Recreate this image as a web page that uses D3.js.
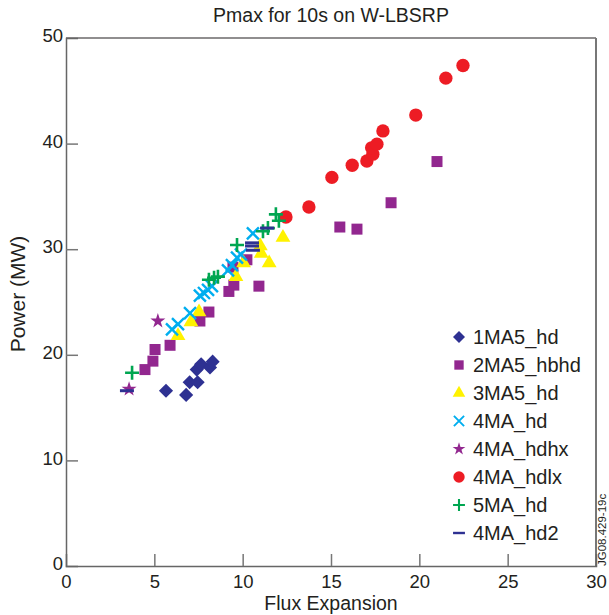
<!DOCTYPE html>
<meta charset="utf-8">
<style>
body { margin: 0; background: #fff; }
text { font-family: "Liberation Sans", Arial, sans-serif; fill: #231f20; }
.legend text { font-size: 20px; }
</style>
<body>
<script src="https://d3js.org/d3.v7.min.js"></script>
<script>
// series, in legend (and drawing) order
var seriesNames = ["1MA5_hd", "2MA5_hbhd", "3MA5_hd", "4MA_hd", "4MA_hdhx", "4MA_hdlx", "5MA_hd", "4MA_hd2"];

var x_1MA5_hd = [5.66, 6.8, 7.0, 7.45, 7.4, 7.65, 8.15, 8.3];
var y_1MA5_hd = [16.6, 16.2, 17.4, 17.4, 18.6, 19.1, 18.8, 19.35];

var x_2MA5_hbhd = [4.47, 4.92, 5.04, 5.89, 7.58, 8.09, 9.22, 9.5, 9.45, 10.24, 10.92, 15.5, 16.47, 18.4, 21.0];
var y_2MA5_hbhd = [18.6, 19.4, 20.5, 20.9, 23.2, 24.05, 26.0, 26.6, 28.3, 29.0, 26.5, 32.1, 31.9, 34.4, 38.3];

var x_3MA5_hd = [6.34, 7.07, 7.53, 9.62, 10.05, 11.0, 11.05, 11.5, 12.28];
var y_3MA5_hd = [21.8, 23.1, 24.05, 27.4, 28.7, 30.3, 29.6, 28.7, 31.1];

var x_4MA_hd = [6.0, 6.34, 7.02, 7.58, 7.81, 8.04, 8.26, 9.17, 9.39, 9.68, 9.9, 10.58];
var y_4MA_hd = [22.4, 22.9, 23.95, 25.6, 25.85, 26.15, 26.5, 28.0, 28.5, 29.2, 29.5, 31.5];

var x_4MA_hdhx = [3.57, 5.2];
var y_4MA_hdhx = [16.75, 23.2];

var x_4MA_hdlx = [12.45, 13.75, 15.05, 16.2, 17.03, 17.37, 17.3, 17.6, 17.94, 19.8, 21.5, 22.47];
var y_4MA_hdlx = [33.05, 34.0, 36.8, 37.95, 38.35, 39.0, 39.6, 39.95, 41.2, 42.7, 46.2, 47.4];

var x_5MA_hd = [3.74, 8.09, 8.38, 8.6, 9.68, 11.15, 11.43, 11.88, 12.05];
var y_5MA_hd = [18.3, 27.1, 27.3, 27.4, 30.4, 31.7, 32.0, 33.3, 32.7];

var x_4MA_hd2 = [3.45, 10.53, 10.53, 10.58, 11.38];
var y_4MA_hd2 = [16.6, 30.6, 30.3, 29.9, 32.0];

var xTicks = [0, 5, 10, 15, 20, 25, 30];
var yTicks = [0, 10, 20, 30, 40, 50];

var seriesX = [x_1MA5_hd, x_2MA5_hbhd, x_3MA5_hd, x_4MA_hd, x_4MA_hdhx, x_4MA_hdlx, x_5MA_hd, x_4MA_hd2];
var seriesY = [y_1MA5_hd, y_2MA5_hbhd, y_3MA5_hd, y_4MA_hd, y_4MA_hdhx, y_4MA_hdlx, y_5MA_hd, y_4MA_hd2];

var colors = ["#2e3192", "#92278f", "#fff200", "#00aeef", "#92278f", "#ed1c24", "#00a651", "#2e3192"];

var width = 609, height = 615;
var margin = {top: 38, right: 13, bottom: 49, left: 66};
var w = width - margin.left - margin.right,
    h = height - margin.top - margin.bottom;

var svg = d3.select("body").append("svg")
  .attr("width", width)
  .attr("height", height);

var g = svg.append("g")
  .attr("transform", "translate(" + margin.left + "," + margin.top + ")");

var x = d3.scaleLinear().domain([0, 30]).range([0, w]);
var y = d3.scaleLinear().domain([0, 50]).range([h, 0]);

// frame
g.append("line").attr("x1", 0).attr("x2", w).attr("y1", 0).attr("y2", 0)
  .attr("stroke", "#231f20").attr("stroke-width", 1.2);
g.append("line").attr("x1", w).attr("x2", w).attr("y1", 0).attr("y2", h)
  .attr("stroke", "#777").attr("stroke-width", 2);

// axes with inward ticks
var xAxis = g.append("g")
  .attr("transform", "translate(0," + h + ")")
  .call(d3.axisBottom(x).tickValues(xTicks).tickSize(-12).tickPadding(9));
var yAxis = g.append("g")
  .call(d3.axisLeft(y).tickValues(yTicks).tickSize(-12).tickPadding(3));

[xAxis, yAxis].forEach(function(ax) {
  ax.select(".domain").attr("stroke", "#666").attr("stroke-width", 1.5);
  ax.selectAll(".tick line").attr("stroke", "#777").attr("stroke-width", 1.5);
  ax.selectAll(".tick text")
    .style("font-family", "Liberation Sans, Arial, sans-serif")
    .style("font-size", "18.5px")
    .attr("fill", "#231f20");
});
yAxis.selectAll(".tick text").attr("dy", "0.2em");
// frame already covers the end ticks
xAxis.selectAll(".tick").filter(function(d) { return d === 0 || d === 30; }).select("line").remove();
yAxis.selectAll(".tick").filter(function(d) { return d === 0 || d === 50; }).select("line").remove();

// marker shapes
function marker(i, s) {
  // s = scale factor
  switch (i) {
    case 0: return {d: d3.symbol().type(d3.symbolSquare).size(100 * s * s)(), rot: 45, fill: true};
    case 1: return {d: d3.symbol().type(d3.symbolSquare).size(121 * s * s)(), fill: true};
    case 2: return {d: d3.symbol().type(d3.symbolTriangle).size(95 * s * s)(), fill: true};
    case 3: var a = 6 * s; return {d: "M" + (-a) + "," + (-a) + "L" + a + "," + a + "M" + (-a) + "," + a + "L" + a + "," + (-a), fill: false, sw: 2.4};
    case 4: return {d: d3.symbol().type(d3.symbolStar).size(70 * s * s)(), fill: true};
    case 5: return {d: d3.symbol().type(d3.symbolCircle).size(140 * s * s)(), fill: true};
    case 6: var b = 7 * s; return {d: "M" + (-b) + ",0L" + b + ",0M0," + (-b) + "L0," + b, fill: false, sw: 2.6};
    case 7: var c = 7 * s; return {d: "M" + (-c) + ",0L" + c + ",0", fill: false, sw: 3};
  }
}

seriesNames.forEach(function(name, i) {
  var pts = seriesX[i].map(function(v, k) { return [v, seriesY[i][k]]; });
  var m = marker(i, 1);
  g.append("g").attr("class", "series")
    .selectAll("path")
    .data(pts)
    .enter().append("path")
    .attr("d", m.d)
    .attr("transform", function(d) {
      return "translate(" + x(d[0]) + "," + y(d[1]) + ")" + (m.rot ? " rotate(" + m.rot + ")" : "");
    })
    .attr("fill", m.fill ? colors[i] : "none")
    .attr("stroke", m.fill ? "none" : colors[i])
    .attr("stroke-width", m.sw || 0);
});

// legend
var legend = svg.append("g").attr("class", "legend")
  .attr("transform", "translate(459,337)");
seriesNames.forEach(function(name, i) {
  var row = legend.append("g").attr("transform", "translate(0," + (i * 28) + ")");
  var m = marker(i, 0.85);
  row.append("path")
    .attr("d", m.d)
    .attr("transform", m.rot ? "rotate(" + m.rot + ")" : null)
    .attr("fill", m.fill ? colors[i] : "none")
    .attr("stroke", m.fill ? "none" : colors[i])
    .attr("stroke-width", m.sw ? m.sw * 0.8 : 0);
  row.append("text")
    .attr("x", 14)
    .attr("dy", "0.36em")
    .text(name);
});

// titles
svg.append("text")
  .attr("x", margin.left + w / 2)
  .attr("y", 22)
  .attr("text-anchor", "middle")
  .style("font-size", "19.5px")
  .text("Pmax for 10s on W-LBSRP");

svg.append("text")
  .attr("x", margin.left + w / 2)
  .attr("y", 610)
  .attr("text-anchor", "middle")
  .style("font-size", "19.5px")
  .text("Flux Expansion");

svg.append("text")
  .attr("transform", "translate(25," + (margin.top + h / 2 - 8) + ") rotate(-90)")
  .attr("text-anchor", "middle")
  .style("font-size", "21px")
  .text("Power (MW)");

svg.append("text")
  .attr("transform", "translate(606,566) rotate(-90)")
  .attr("text-anchor", "start")
  .style("font-size", "11.5px")
  .text("JG08.429-19c");
</script>
</body>
